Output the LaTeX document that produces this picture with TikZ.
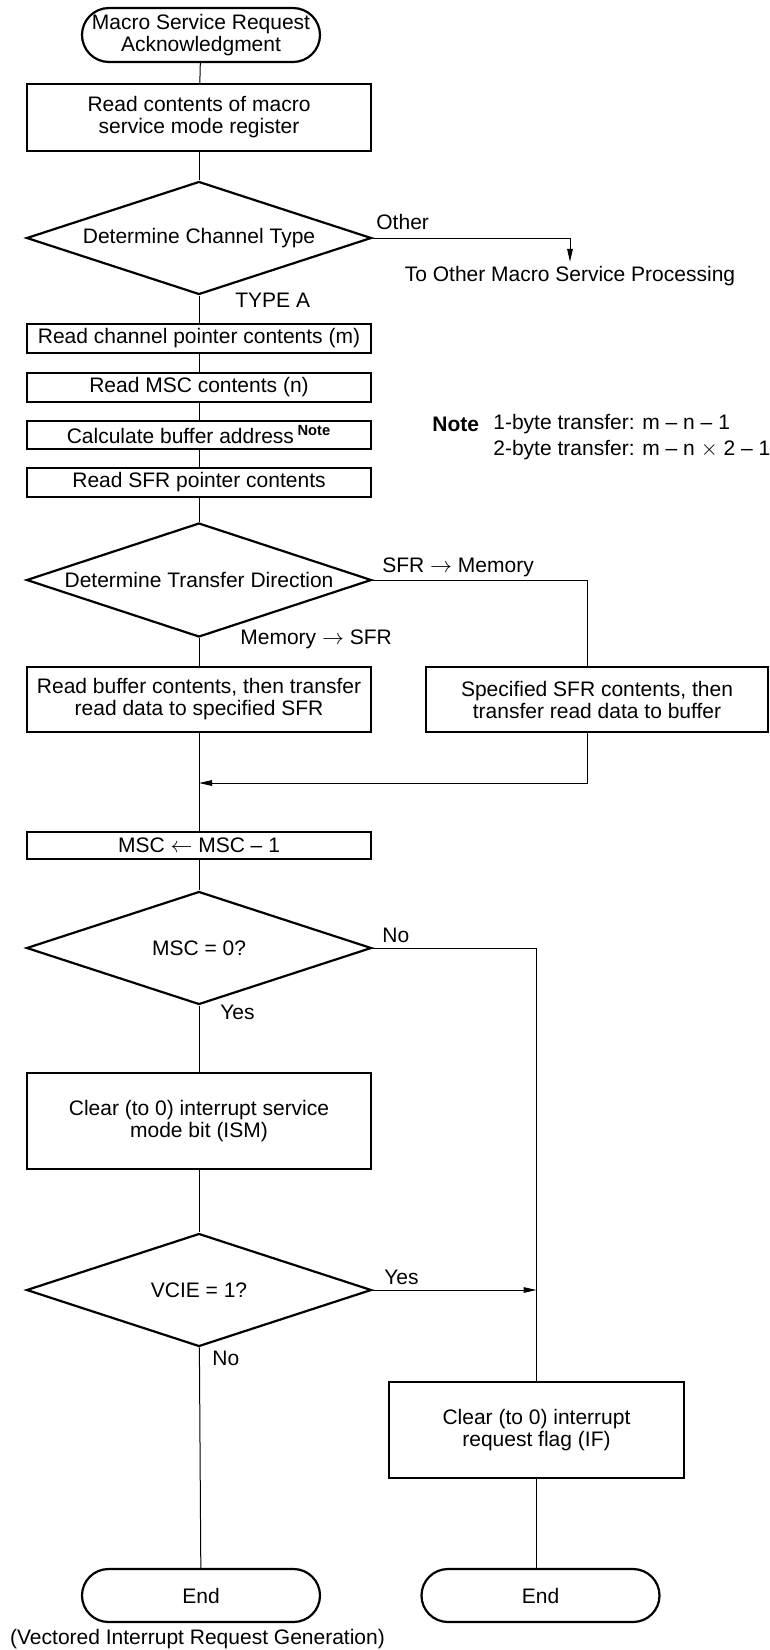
\documentclass[tikz,border=0pt]{standalone}
\usepackage{fontspec}
\setmainfont{Liberation Sans}
\usetikzlibrary{arrows.meta,shapes.geometric,shapes.misc}
\newcommand{\flowfont}{\fontsize{10.5pt}{11pt}\selectfont}

\begin{document}
\begin{tikzpicture}[x=0.5pt,y=-0.5pt,>={Triangle[length=6.5pt,width=2.8pt]},
    every node/.style={font=\flowfont},
    procbox/.style={draw,line width=1.1pt,rectangle,minimum width=172pt,inner sep=0pt,align=center},
    terminal/.style={draw,line width=1.1pt,rounded rectangle,minimum width=119pt,minimum height=27pt,inner sep=0pt,align=center},
    decision/.style={draw,line width=1.1pt,diamond,aspect=3.05,minimum width=172.5pt,minimum height=56.5pt,inner sep=0pt},
    lbl/.style={inner sep=0pt,anchor=west},
    flow/.style={line width=0.5pt}]
    \useasboundingbox (0,0) rectangle (770,1650);

    % main column
    \node[terminal] (start) at (201,35) {Macro Service Request\\Acknowledgment};
    \node[procbox,minimum height=33.5pt] (readmode) at (199,117.5) {Read contents of macro\\service mode register};
    \node[decision] (chtype) at (199,238) {Determine Channel Type};
    \node[procbox,minimum height=14.5pt] (chptr) at (199,338.5) {Read channel pointer contents (m)};
    \node[procbox,minimum height=14.5pt] (mscread) at (199,387.5) {Read MSC contents (n)};
    \node[procbox,minimum height=14pt] (calcbuf) at (199,435) {Calculate buffer address\,\textsuperscript{\textbf{Note}}};
    \node[procbox,minimum height=14.5pt] (sfrptr) at (199,482.5) {Read SFR pointer contents};
    \node[decision,minimum height=57pt] (dir) at (199,580) {Determine Transfer Direction};
    \node[procbox,minimum height=32.5pt] (leftbox) at (199,699.5) {Read buffer contents, then transfer\\read data to specified SFR};
    \node[procbox,minimum width=171pt,minimum height=32.5pt] (rightbox) at (597,699.5) {Specified SFR contents, then\\transfer read data to buffer};
    \coordinate (merge) at (199,783);
    \node[procbox,minimum height=13.5pt] (mscdec) at (199,845.5) {MSC $\leftarrow$ MSC – 1};
    \node[decision] (msczero) at (199,948) {MSC = 0?};
    \node[procbox,minimum height=48pt] (ism) at (199,1121) {Clear (to 0) interrupt service\\mode bit (ISM)};
    \node[decision] (vcie) at (199,1290) {VCIE = 1?};
    \node[procbox,minimum width=147.5pt,minimum height=48pt] (ifbox) at (536.5,1430) {Clear (to 0) interrupt\\request flag (IF)};
    \node[terminal,minimum height=26.5pt] (endL) at (201,1595.5) {End};
    \node[terminal,minimum height=26.5pt] (endR) at (540.5,1595.5) {End};

    % side texts
    \node[inner sep=2pt] (other) at (570,276) {To Other Macro Service Processing};
    \node[lbl,font=\flowfont\bfseries] (notehead) at (432,424) {Note};
    \node[lbl,align=left] (notetext) at (493,437) {1-byte transfer: m – n – 1\\[2pt]2-byte transfer: m – n $\times$ 2 – 1};
    \node[inner sep=0pt] (vecint) at (197.5,1639) {(Vectored Interrupt Request Generation)};

    % branch labels
    \node[lbl] at (376,222) {Other};
    \node[lbl] at (235,300) {TYPE A};
    \node[lbl] at (382,567) {SFR $\rightarrow$ Memory};
    \node[lbl] at (240,639) {Memory $\rightarrow$ SFR};
    \node[lbl] at (382,935) {No};
    \node[lbl] at (220,1012) {Yes};
    \node[lbl] at (384,1277) {Yes};
    \node[lbl] at (212,1358) {No};

    % connectors
    \draw[flow] (start) -- (readmode);
    \draw[flow] (readmode) -- (chtype);
    \draw[flow,->] (chtype.east) -| (other.north);
    \draw[flow] (chtype) -- (chptr);
    \draw[flow] (chptr) -- (mscread);
    \draw[flow] (mscread) -- (calcbuf);
    \draw[flow] (calcbuf) -- (sfrptr);
    \draw[flow] (sfrptr) -- (dir);
    \draw[flow] (dir) -- (leftbox);
    \draw[flow] (dir.east) -| ([xshift=-5pt]rightbox.north);
    \draw[flow,->] ([xshift=-5pt]rightbox.south) |- (merge);
    \draw[flow] (leftbox) -- (mscdec);
    \draw[flow] (mscdec) -- (msczero);
    \draw[flow] (msczero.east) -| (ifbox.north);
    \draw[flow] (msczero) -- (ism);
    \draw[flow] (ism) -- (vcie);
    \draw[flow,->] (vcie.east) -- (vcie.east -| ifbox.north);
    \draw[flow] (vcie) -- (endL);
    \draw[flow] (ifbox.south) -- (ifbox.south |- endR.north);
\end{tikzpicture}
\end{document}
